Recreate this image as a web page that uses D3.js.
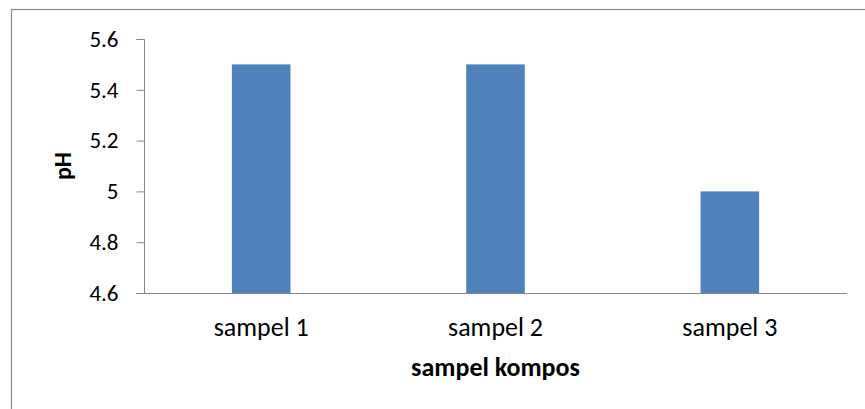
<!DOCTYPE html>
<html><head><meta charset="utf-8">
<script src="https://cdn.jsdelivr.net/npm/d3@7"></script>
<style>body{margin:0;background:#fff}svg{display:block}</style>
</head><body>
<svg id="c" width="865" height="409"></svg>
<script>
const categories = ["sampel 1", "sampel 2", "sampel 3"];
const values = [5.5, 5.5, 5.0];
const yTicks = [4.6, 4.8, 5.0, 5.2, 5.4, 5.6];
const xTitle = "sampel kompos";
const yTitle = "pH";

const svg = d3.select("#c");
const font = "Carlito, Lato, 'Open Sans', sans-serif";
// outer frame
svg.append("rect").attr("x", 11.5).attr("y", 9.5).attr("width", 900).attr("height", 500)
  .attr("fill", "#fff").attr("stroke", "#898989").attr("stroke-width", 1.2);

const x = d3.scaleBand().domain(categories).range([144, 847]).paddingInner(0.75).paddingOuter(0.375);
const y = d3.scaleLinear().domain([4.6, 5.6]).range([293, 39]);

svg.selectAll("rect.bar").data(values).join("rect").attr("class", "bar")
  .attr("x", (d, i) => x(categories[i])).attr("width", x.bandwidth())
  .attr("y", d => y(d)).attr("height", d => y(4.6) - y(d)).attr("fill", "#4F81BD");

const yAxis = svg.append("g").attr("transform", "translate(144.5,0)")
  .call(d3.axisLeft(y).tickValues(yTicks).tickSize(8).tickPadding(18).tickFormat(d => d3.format("")(+d.toFixed(1))));
yAxis.select(".domain").attr("stroke", "#868686").attr("d", `M-8,${y(5.6)+0.5}H0V${y(4.6)+0.5}`);
yAxis.selectAll(".tick line").attr("stroke", "#868686");
yAxis.selectAll(".tick").attr("transform", d => `translate(0,${y(d)+0.5})`);
yAxis.selectAll("text").attr("font-family", font).attr("font-size", 23).attr("fill", "#000");

const xAxis = svg.append("g").attr("transform", `translate(0,${y(4.6)+0.5})`)
  .call(d3.axisBottom(x).tickSize(0).tickPadding(24));
xAxis.select(".domain").attr("stroke", "#868686").attr("d", "M136,0H847");
xAxis.selectAll("text").attr("font-family", font).attr("font-size", 26).attr("fill", "#000");

svg.append("text").attr("x", 495.5).attr("y", 376).attr("text-anchor", "middle")
  .attr("font-family", font).attr("font-weight", "bold").attr("font-size", 26).text(xTitle);
svg.append("text").attr("transform", `translate(71,${y(5.1)}) rotate(-90)`).attr("text-anchor", "middle")
  .attr("font-family", font).attr("font-weight", "bold").attr("font-size", 24).text(yTitle);
</script>
</body></html>
